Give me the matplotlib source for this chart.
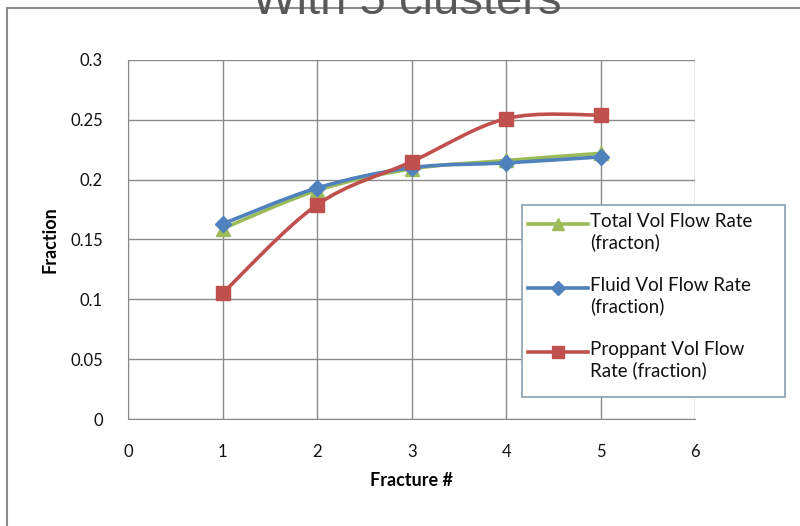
import matplotlib.pyplot as plt
from matplotlib.path import Path
from matplotlib.patches import PathPatch, Rectangle
from matplotlib.lines import Line2D

fractures = [1, 2, 3, 4, 5]
total_vol = [0.159, 0.191, 0.209, 0.216, 0.222]
fluid_vol = [0.163, 0.193, 0.210, 0.214, 0.219]
proppant_vol = [0.105, 0.179, 0.215, 0.251, 0.254]

series_labels = ['Total Vol Flow Rate\n(fracton)',
                 'Fluid Vol Flow Rate\n(fraction)',
                 'Proppant Vol Flow\nRate (fraction)']
x_ticks = [0, 1, 2, 3, 4, 5, 6]
y_ticks = [0, 0.05, 0.1, 0.15, 0.2, 0.25, 0.3]
y_tick_labels = ['0', '0.05', '0.1', '0.15', '0.2', '0.25', '0.3']

GREEN = '#9BBB59'
BLUE = '#4F81BD'
RED = '#C0504D'
FONT = ['Lato', 'DejaVu Sans']
W, H = 800, 526


def smooth_path(xs, ys):
    # Excel-style smoothed line: Catmull-Rom segments as cubic Bezier curves
    pts = list(zip(xs, ys))
    verts = [pts[0]]
    codes = [Path.MOVETO]
    n = len(pts)
    for i in range(n - 1):
        p0 = pts[i - 1] if i > 0 else pts[i]
        p1 = pts[i]
        p2 = pts[i + 1]
        p3 = pts[i + 2] if i + 2 < n else pts[i + 1]
        c1 = (p1[0] + (p2[0] - p0[0]) / 6, p1[1] + (p2[1] - p0[1]) / 6)
        c2 = (p2[0] - (p3[0] - p1[0]) / 6, p2[1] - (p3[1] - p1[1]) / 6)
        verts += [c1, c2, p2]
        codes += [Path.CURVE4] * 3
    return Path(verts, codes)


def fx(px):
    return px / W


def fy(py):
    return 1 - py / H


fig = plt.figure(figsize=(8, 5.26), dpi=100)
ax = fig.add_axes([0.16, 0.2034, 0.709, 0.6826])

# outer chart frame
fig.patches.append(Rectangle((fx(7), -0.05), 1.0, fy(8) + 0.05,
                             transform=fig.transFigure, fill=False,
                             edgecolor='#8c8c8c', linewidth=1.5))
fig.text(0.509, fy(14), 'With 5 clusters', ha='center', va='baseline',
         fontsize=34, color='#595959', family=['Liberation Sans', 'DejaVu Sans'])

styles = [(total_vol, GREEN, '^', 10), (fluid_vol, BLUE, 'D', 8), (proppant_vol, RED, 's', 10)]
for k, (vals, col, mk, ms) in enumerate(styles):
    ax.add_patch(PathPatch(smooth_path(fractures, vals), facecolor='none',
                           edgecolor=col, linewidth=2.6, zorder=3 + k))
    ax.plot(fractures, vals, linestyle='none', marker=mk, markersize=ms,
            color=col, zorder=3 + k)

ax.set_xlim(0, 6)
ax.set_ylim(0, 0.3)
ax.set_xticks(x_ticks)
ax.set_yticks(y_ticks)
ax.set_yticklabels(y_tick_labels)
ax.grid(True, color='#8a8a8a', linewidth=1)
ax.set_axisbelow(True)
for s in ['top', 'right']:
    ax.spines[s].set_visible(False)
for s in ['left', 'bottom']:
    ax.spines[s].set_color('#8a8a8a')
ax.tick_params(length=0, labelsize=12, pad=18, labelcolor='#111111')
for lab in ax.get_xticklabels() + ax.get_yticklabels():
    lab.set_family(FONT)

ax.set_xlabel('Fracture #', fontsize=13, fontweight='bold', family=FONT)
ax.set_ylabel('Fraction', fontsize=13, fontweight='bold', family=FONT)
ax.xaxis.set_label_coords(0.5, -0.148)
ax.yaxis.set_label_coords(-0.122, 0.5)

# legend drawn by hand so the markers sit on the first line of each label
fig.patches.append(Rectangle((fx(522), fy(397)), fx(785) - fx(522), fy(205) - fy(397),
                             transform=fig.transFigure, facecolor='white',
                             edgecolor='#8aa0b0', linewidth=1.2, zorder=10))
for k, (vals, col, mk, ms) in enumerate(styles):
    yy = fy(224 + 64 * k)
    fig.add_artist(Line2D([fx(528), fx(588)], [yy, yy], color=col, linewidth=2.6,
                          transform=fig.transFigure, zorder=11))
    fig.add_artist(Line2D([fx(558)], [yy], color=col, linestyle='none',
                          marker=mk, markersize=ms * 0.85,
                          transform=fig.transFigure, zorder=12))
    fig.text(fx(590), fy(224 + 64 * k - 11), series_labels[k], ha='left', va='top',
             fontsize=13.5, family=FONT, color='#111111', linespacing=1.2, zorder=12)

fig.savefig('out.png', dpi=100)
